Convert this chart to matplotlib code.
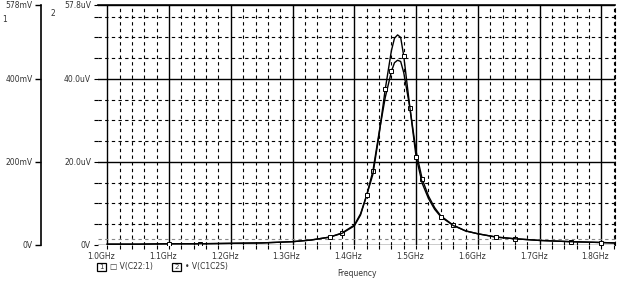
import matplotlib.pyplot as plt
import matplotlib.transforms as mtransforms
from matplotlib.ticker import FixedLocator, MultipleLocator
from matplotlib.patches import Rectangle

# frequency sweep (GHz) and the two traces
freq = [1.00, 1.05, 1.10, 1.15, 1.20, 1.25, 1.30, 1.33, 1.36, 1.38, 1.40, 1.41,
        1.42, 1.43, 1.44, 1.45, 1.46, 1.465, 1.47, 1.475, 1.48, 1.49, 1.50, 1.51,
        1.52, 1.53, 1.54, 1.56, 1.58, 1.60, 1.63, 1.66, 1.70, 1.75, 1.80, 1.82]
v_c22 = [2, 2, 3, 3, 4, 5, 8, 12, 19, 28, 46, 72, 120, 170, 265, 375, 468, 498,
         506, 500, 455, 330, 212, 148, 112, 86, 68, 47, 34, 27, 19, 15, 11, 8, 6, 5]   # mV
v_c1c2 = [0.2, 0.2, 0.3, 0.3, 0.4, 0.5, 0.8, 1.2, 1.9, 2.9, 4.8, 7.5, 12.0, 17.8,
          27.0, 35.5, 41.8, 43.9, 44.5, 44.2, 41.5, 33.0, 22.5, 15.8, 11.8, 9.0,
          7.0, 4.8, 3.4, 2.7, 1.9, 1.5, 1.1, 0.8, 0.6, 0.5]                           # uV

x_ticks = [1.0, 1.1, 1.2, 1.3, 1.4, 1.5, 1.6, 1.7, 1.8]
x_labels = ['1.0GHz', '1.1GHz', '1.2GHz', '1.3GHz', '1.4GHz', '1.5GHz', '1.6GHz', '1.7GHz', '1.8GHz']
y1_ticks = [0, 200, 400, 578]
y1_labels = ['0V', '200mV', '400mV', '578mV']
y2_ticks = [0, 20, 40, 57.8]
y2_labels = ['0V', '20.0uV', '40.0uV', '57.8uV']
trace_names = ['V(C22:1)', 'V(C1C2S)']

TXT = '#333333'
FS = 5.5
PT = 72 / 100  # points per pixel

fig = plt.figure(figsize=(6.24, 2.92), dpi=100)
W, H = 624, 292
ax = fig.add_axes([98 / W, 1 - 245 / H, (615 - 98) / W, 240 / H])

# axis 2 (uV) is the plot frame
ax.set_xlim(0.985, 1.822)
ax.set_ylim(0, 57.8)
ax.xaxis.set_major_locator(FixedLocator(x_ticks))
ax.xaxis.set_minor_locator(MultipleLocator(0.02))
ax.set_xticklabels(x_labels)
ax.yaxis.set_major_locator(FixedLocator(y2_ticks))
ax.yaxis.set_minor_locator(MultipleLocator(5))
ax.set_yticklabels(y2_labels)
ax.grid(which='major', color='black', lw=1.0, ls='-')
ax.grid(which='minor', color='black', lw=0.8, ls=(0, (3, 3)))
ax.axhline(1.4, color='#888888', lw=0.8, ls=(0, (3, 3)))
ax.tick_params(which='both', direction='out', length=3, width=0.8, labelsize=FS,
               labelcolor=TXT, pad=2)
for s in ['left', 'bottom']:
    ax.spines[s].set_visible(False)
ax.spines['top'].set_linewidth(1.2)
ax.spines['right'].set_linestyle((0, (3, 3)))
ax.spines['right'].set_linewidth(0.8)

# PSpice puts the frequency labels slightly left of their grid lines
shift = mtransforms.ScaledTranslation(-6 / 100, 0, fig.dpi_scale_trans)
for lab in ax.get_xticklabels():
    lab.set_transform(lab.get_transform() + shift)

ax.plot(freq, v_c1c2, color='black', lw=1.0, marker='s', ms=2.5, mfc='white',
        mew=0.7, markevery=[3, 9, 13, 16, 21, 23, 27, 31, 33])

# axis 1 (mV) off to the left
ax1 = ax.twinx()
ax1.set_ylim(0, 578)
ax1.yaxis.tick_left()
ax1.spines['left'].set_position(('outward', 57 * PT))
ax1.spines['left'].set_linewidth(1.2)
for s in ['right', 'top', 'bottom']:
    ax1.spines[s].set_visible(False)
ax1.yaxis.set_major_locator(FixedLocator(y1_ticks))
ax1.set_yticklabels(y1_labels)
ax1.tick_params(axis='y', direction='out', length=4, width=1.0, labelsize=FS,
                labelcolor=TXT, pad=2)
ax1.plot(freq, v_c22, color='black', lw=1.0, marker='s', ms=2.5, mfc='white',
         mew=0.7, markevery=[2, 8, 12, 15, 20, 22, 26, 30, 34])

# axis ids
fig.text(2 / W, 1 - 22 / H, '1', fontsize=FS, color=TXT)
fig.text(50 / W, 1 - 16 / H, '2', fontsize=FS, color=TXT)

# legend in PSpice style
ly = 1 - 267 / H
for i, (x0, name) in enumerate([(97, trace_names[0]), (172, trace_names[1])]):
    fig.patches.append(Rectangle((x0 / W, ly - 4 / H), 9 / W, 8 / H,
                                 transform=fig.transFigure, fill=False,
                                 lw=0.9, ec='black'))
    fig.text((x0 + 4.5) / W, ly, str(i + 1), fontsize=FS - 0.5, color=TXT,
             ha='center', va='center')
    fig.text((x0 + 13) / W, ly, ('\u25a1' if i == 0 else '\u2022') + ' ' + name,
             fontsize=FS, color=TXT, va='center')

fig.text(357 / W, 1 - 274 / H, 'Frequency', fontsize=FS, color=TXT,
         ha='center', va='center')

fig.savefig('out.png', dpi=100, facecolor='white')
